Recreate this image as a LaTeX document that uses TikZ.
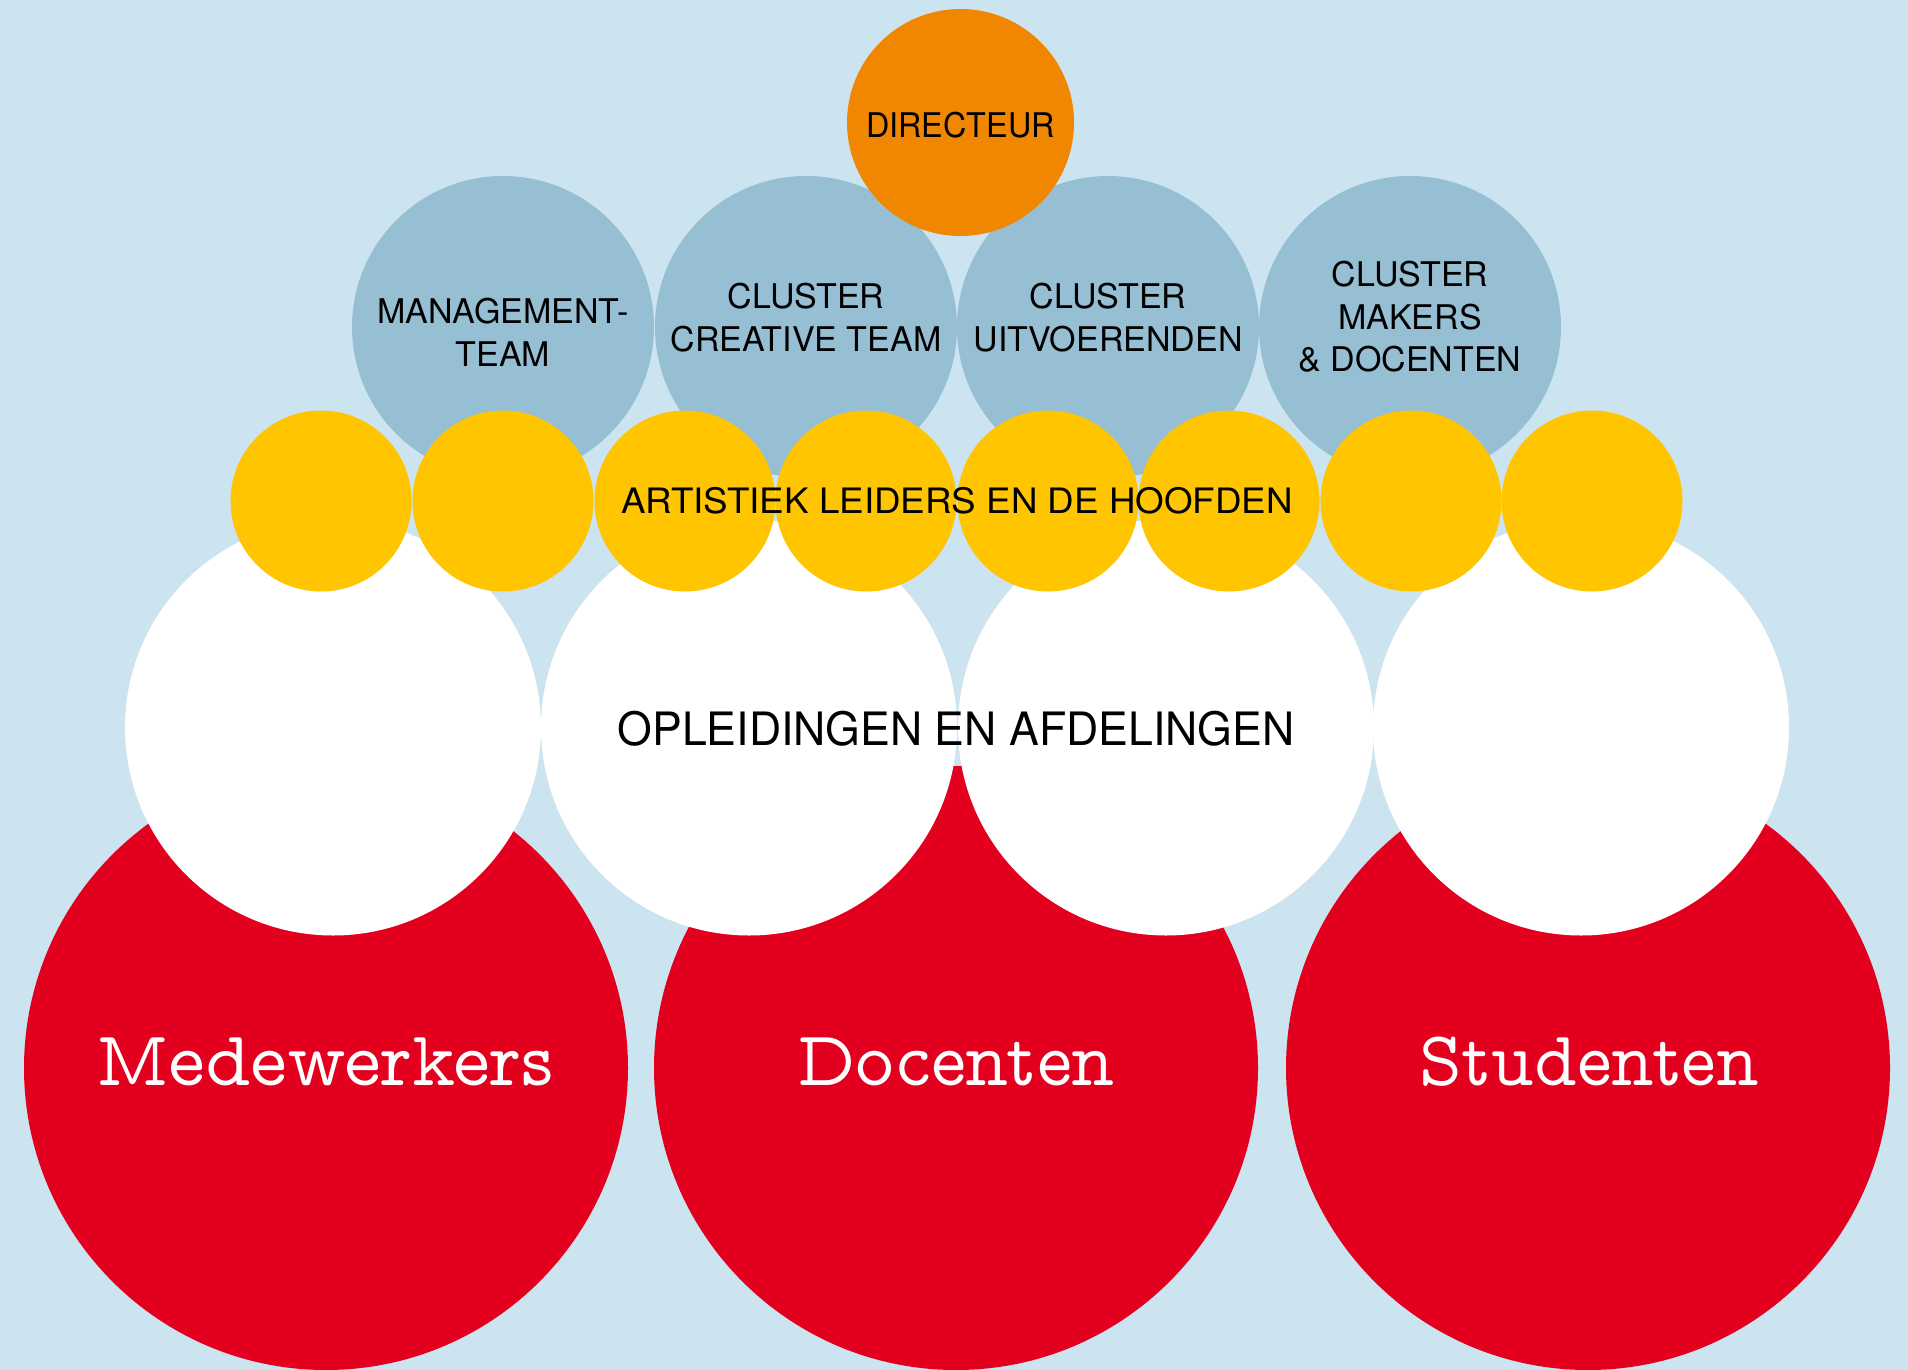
\documentclass[tikz,border=0pt]{standalone}
\usepackage{fontspec}
\setmainfont{TeX Gyre Heros}
\newfontfamily\slabfont{Latin Modern Mono Prop}
\definecolor{bgblue}{HTML}{CCE3F0}
\definecolor{clblue}{HTML}{97BFD4}
\definecolor{dirorange}{HTML}{F18700}
\definecolor{ledyellow}{HTML}{FEC500}
\definecolor{basered}{HTML}{E2001E}
\tikzset{
  disc/.style={circle, draw=none, inner sep=0pt, minimum size=#1},
  reddisc/.style={disc=604pt, fill=basered},
  whitedisc/.style={disc=416pt, fill=white},
  bluedisc/.style={disc=302pt, fill=clblue},
  yellowdisc/.style={disc=181pt, fill=ledyellow},
  dirdisc/.style={disc=227pt, fill=dirorange},
  smalltxt/.style={inner sep=0pt, text=black, align=center, font=\fontsize{34pt}{43pt}\selectfont},
  bigtxt/.style={inner sep=0pt, text=black, font=\fontsize{46pt}{52pt}\selectfont\addfontfeatures{FakeStretch=0.97}},
  slabtxt/.style={inner sep=0pt, text=white, font=\slabfont\fontsize{78pt}{90pt}\selectfont}
}
\begin{document}
\begin{tikzpicture}[x=1pt,y=-1pt]
\fill[bgblue] (0,0) rectangle (1908,1370);
\useasboundingbox (0,0) rectangle (1908,1370);
% red
\node[reddisc] (r1) at (326,1068) {};
\node[reddisc] (r2) at (956,1068) {};
\node[reddisc] (r3) at (1588,1068) {};
% white
\node[whitedisc] (w1) at (333,727.5) {};
\node[whitedisc] (w2) at (749,727.5) {};
\node[whitedisc] (w3) at (1166,727.5) {};
\node[whitedisc] (w4) at (1581,727.5) {};
% blue
\node[bluedisc] (b1) at (503,327) {};
\node[bluedisc] (b2) at (806,327) {};
\node[bluedisc] (b3) at (1108,327) {};
\node[bluedisc] (b4) at (1410,327) {};
% director
\node[dirdisc] (dir) at (960.5,122.5) {};
% yellow
\node[yellowdisc] (y1) at (321,501) {};
\node[yellowdisc] (y2) at (503,501) {};
\node[yellowdisc] (y3) at (685,501) {};
\node[yellowdisc] (y4) at (866,501) {};
\node[yellowdisc] (y5) at (1048,501) {};
\node[yellowdisc] (y6) at (1229,501) {};
\node[yellowdisc] (y7) at (1411,501) {};
\node[yellowdisc] (y8) at (1592,501) {};
% texts
\node[smalltxt, anchor=base, font=\fontsize{34pt}{43pt}\selectfont\addfontfeatures{FakeStretch=0.95}] (tdir) at (960.5,137.5) {DIRECTEUR};
\node[smalltxt, anchor=north] (tb1) at (503,298) {MANAGEMENT-\\TEAM};
\node[smalltxt, anchor=north] (tb2) at (806,283) {CLUSTER\\CREATIVE TEAM};
\node[smalltxt, anchor=north] (tb3) at (1108,283) {CLUSTER\\UITVOERENDEN};
\node[smalltxt, anchor=north, font=\fontsize{34pt}{42.5pt}\selectfont] (tb4) at (1410,261) {CLUSTER\\MAKERS\\\&~DOCENTEN};
\node[smalltxt, anchor=base, font=\fontsize{35pt}{42pt}\selectfont\addfontfeatures{FakeStretch=1.05}] (tyel) at (957,513) {ARTISTIEK LEIDERS EN DE HOOFDEN};
\node[bigtxt, anchor=base] (twhite) at (956,745) {OPLEIDINGEN EN AFDELINGEN};
\node[slabtxt, anchor=base] (tr1) at (325,1085.5) {Medewerkers};
\node[slabtxt, anchor=base, font=\slabfont\fontsize{78pt}{90pt}\selectfont\addfontfeatures{FakeStretch=0.95}] (tr2) at (956,1085.5) {Docenten};
\node[slabtxt, anchor=base, font=\slabfont\fontsize{78pt}{90pt}\selectfont\addfontfeatures{FakeStretch=0.94}] (tr3) at (1589,1085.5) {Studenten};
\end{tikzpicture}
\end{document}
